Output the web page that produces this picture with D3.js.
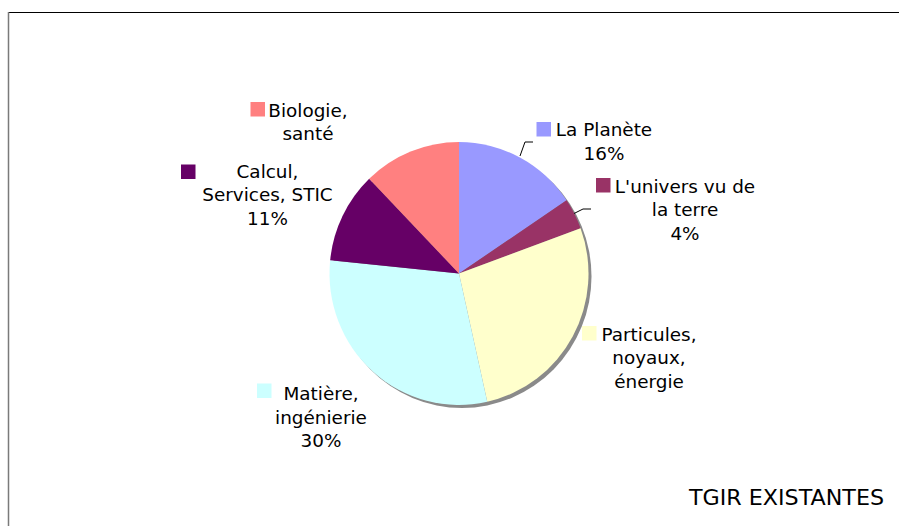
<!DOCTYPE html>
<html><head><meta charset="utf-8">
<script src="https://cdn.jsdelivr.net/npm/d3@7"></script>
<style>html,body{margin:0;padding:0;background:#fff;}svg{display:block;}</style>
</head><body>
<script>
// ---- data ----
const categories = ["La Planète", "L'univers vu de la terre", "Particules, noyaux, énergie", "Matière, ingénierie", "Calcul, Services, STIC", "Biologie, santé"];
const values = [15.6, 3.8, 27.1, 30.1, 11.2, 12.2];
const labelLines = [
  ["La Planète", "16%"],
  ["L'univers vu de", "la terre", "4%"],
  ["Particules,", "noyaux,", "énergie"],
  ["Matière,", "ingénierie", "30%"],
  ["Calcul,", "Services, STIC", "11%"],
  ["Biologie,", "santé"]
];
const colors = ["#9999FF", "#993366", "#FFFFCC", "#CCFFFF", "#660066", "#FF8080"];
const title = "TGIR EXISTANTES";

// ---- layout (positions only) ----
const W = 899, H = 526;
const cx = 459, cy = 273.5, R = 129.5;
const labelLayout = [
  {x: 604, y: 136, kx: 536.5, ky: 122},
  {x: 685, y: 192.5, kx: 596, ky: 178},
  {x: 649, y: 340.5, kx: 582, ky: 326},
  {x: 321, y: 400, kx: 257, ky: 383.5},
  {x: 267.5, y: 177.5, kx: 181, ky: 164.5},
  {x: 308, y: 116.5, kx: 250.5, ky: 102}
];
const leaders = {0: [[520, 156], [525, 142], [533, 142]], 1: [[574, 213.5], [583, 209], [591, 209]]};
const lineH = 23.5;

const svg = d3.select("body").append("svg").attr("width", W).attr("height", H);
svg.append("rect").attr("width", W).attr("height", H).attr("fill", "#fff");

// frame
svg.append("line").attr("x1", 8).attr("x2", W).attr("y1", 12.5).attr("y2", 12.5).attr("stroke", "#000").attr("stroke-width", 1);
svg.append("line").attr("x1", 8.5).attr("x2", 8.5).attr("y1", 12).attr("y2", H).attr("stroke", "#7a7a7a").attr("stroke-width", 1.5);

const pie = d3.pie().sort(null).value(d => d)(values);
const arc = d3.arc().innerRadius(0).outerRadius(R);

// shadow
svg.append("g").attr("transform", `translate(${cx + 3},${cy + 3}) scale(1,1.015)`)
  .append("circle").attr("r", R).attr("fill", "#8a8a8a");

svg.append("g").attr("transform", `translate(${cx},${cy}) scale(1,1.015)`)
  .selectAll("path").data(pie).join("path")
  .attr("d", arc).attr("fill", (d, i) => colors[i]);

// leader lines
Object.entries(leaders).forEach(([i, pts]) => {
  svg.append("path").attr("d", d3.line()(pts)).attr("fill", "none").attr("stroke", "#000").attr("stroke-width", 1);
});

// labels
const lg = svg.append("g").attr("font-family", "'DejaVu Sans', Verdana, sans-serif").attr("font-size", 18.4).attr("fill", "#000");
labelLines.forEach((lines, i) => {
  const L = labelLayout[i];
  lg.append("rect").attr("x", L.kx).attr("y", L.ky).attr("width", 14.5).attr("height", 14.5).attr("fill", colors[i]);
  const t = lg.append("text").attr("text-anchor", "middle");
  lines.forEach((s, j) => t.append("tspan").attr("x", L.x).attr("y", L.y + j * lineH).text(s));
});

svg.append("text").attr("x", 689).attr("y", 505).attr("font-family", "'DejaVu Sans', Verdana, sans-serif")
  .attr("font-size", 21).attr("textLength", 195).attr("lengthAdjust", "spacingAndGlyphs").text(title);
</script>
</body></html>
